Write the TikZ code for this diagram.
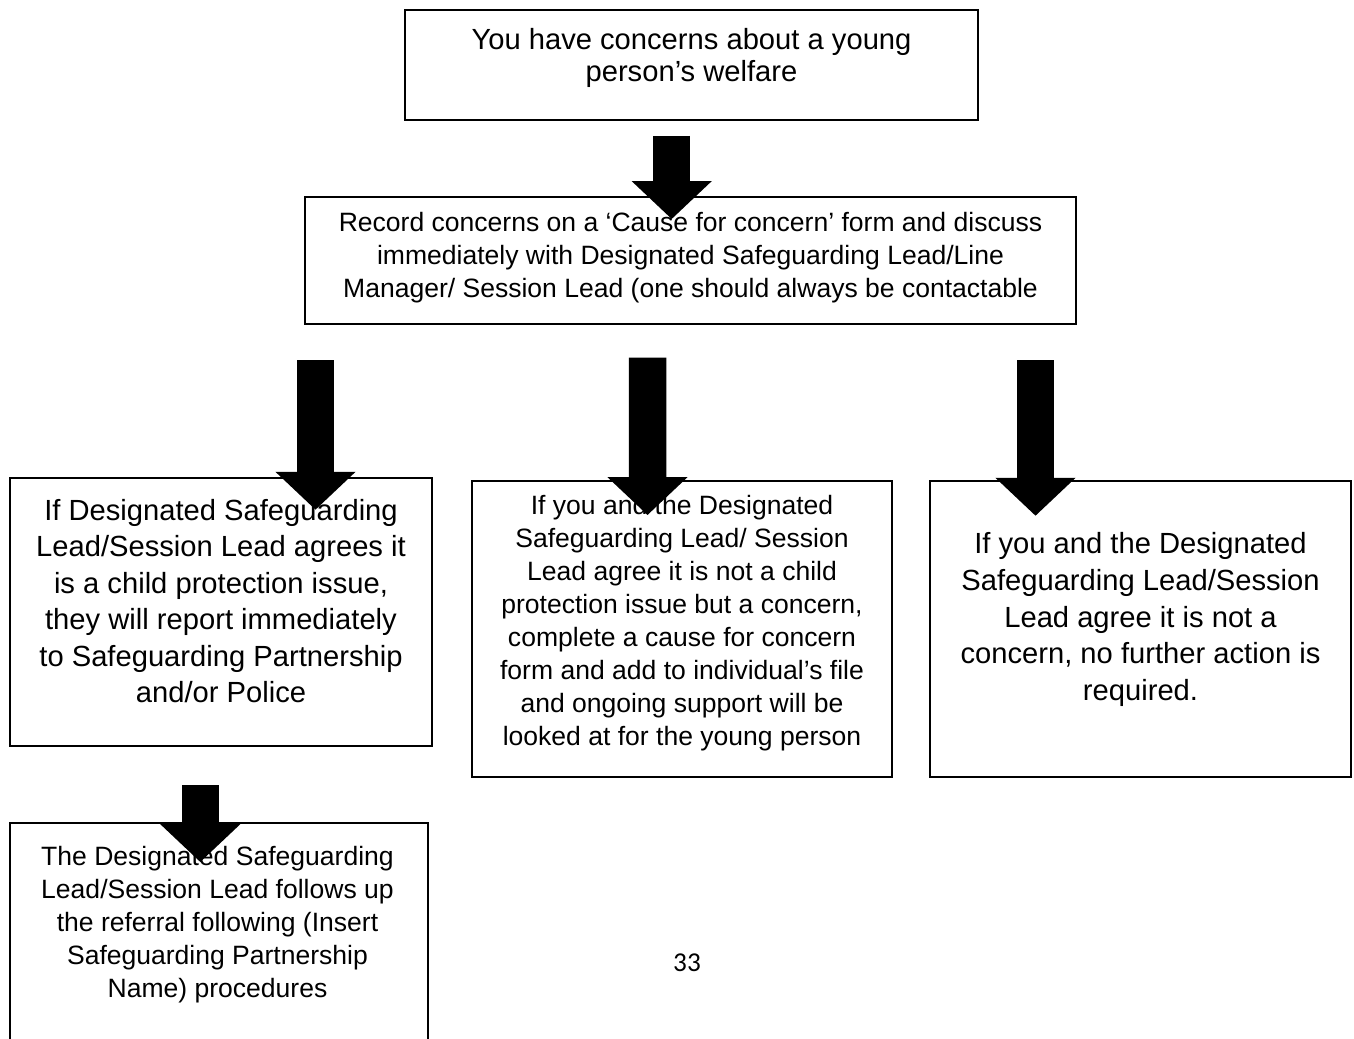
\documentclass[tikz,border=0pt]{standalone}
\usepackage{fontspec}
\setmainfont{Liberation Sans}
\newfontfamily\pagefont{Carlito}
\usepackage{xcolor}
\usepackage{tikz}
\usetikzlibrary{positioning,calc,arrows.meta}
\tikzset{
    flowbox/.style={rectangle, draw=black, line width=1.1pt, inner sep=0pt},
    bigtxt/.style={align=center, inner sep=0pt, font=\fontsize{16.6}{20.8}\selectfont},
    smalltxt/.style={align=center, inner sep=0pt, font=\fontsize{15.1}{18.8}\selectfont}
}

\begin{document}
\begin{tikzpicture}[
        x=0.02cm, y=-0.02cm,
        % --- ARROWS ---
        bigarrow/.style={draw=black, line width=0.75cm, -{Triangle[width=1.56cm, length=0.76cm]}},
        % --- TEXT ---
        headtxt/.style={bigtxt, font=\fontsize{16.6}{18.2}\selectfont},
        pagetxt/.style={font=\pagefont\fontsize{15.5}{18}\selectfont, inner sep=0pt}
    ]
        \useasboundingbox (0,0) rectangle (1354,1038);
        \clip (0,0) rectangle (1354,1038);

        % --- BOXES ---
        \node[flowbox, minimum width=11.46cm, minimum height=2.2cm] (concern) at (691.5,65) {};
        \node[flowbox, minimum width=15.42cm, minimum height=2.54cm] (record) at (690.5,260.5) {};
        \node[flowbox, minimum width=8.44cm, minimum height=5.36cm] (report) at (221,612) {};
        \node[flowbox, minimum width=8.4cm, minimum height=5.92cm] (monitor) at (682,629) {};
        \node[flowbox, minimum width=8.42cm, minimum height=5.92cm] (noaction) at (1140.5,629) {};
        \node[flowbox, minimum width=8.36cm, minimum height=4.8cm] (followup) at (219,943) {};

        % --- TEXTS ---
        \node[headtxt] (concern-t) at ($(concern.center)+(0,-7)$)
            {You have concerns about a young\\person’s welfare};
        \node[smalltxt] (record-t) at ($(record.center)+(0,-2.5)$)
            {Record concerns on a ‘Cause for concern’ form and discuss\\immediately with Designated Safeguarding Lead/Line\\Manager/ Session Lead (one should always be contactable};
        \node[bigtxt] (report-t) at ($(report.center)+(0,-11)$)
            {If Designated Safeguarding\\Lead/Session Lead agrees it\\is a child protection issue,\\they will report immediately\\to Safeguarding Partnership\\and/or Police};
        \node[smalltxt] (monitor-t) at ($(monitor.center)+(0,-5.5)$)
            {If you and the Designated\\Safeguarding Lead/ Session\\Lead agree it is not a child\\protection issue but a concern,\\complete a cause for concern\\form and add to individual’s file\\and ongoing support will be\\looked at for the young person};
        \node[bigtxt] (noaction-t) at ($(noaction.center)+(0,-9.5)$)
            {If you and the Designated\\Safeguarding Lead/Session\\Lead agree it is not a\\concern, no further action is\\required.};
        \node[smalltxt] (followup-t) at ($(followup.center)+(-1.5,-18.5)$)
            {The Designated Safeguarding\\Lead/Session Lead follows up\\the referral following (Insert\\Safeguarding Partnership\\Name) procedures};
        \node[pagetxt] (pagenum) at (687,963) {33};

        % --- CONNECTORS ---
        \draw[bigarrow] ($(concern.south)+(-19.8,15)$) -- ($(record.north)+(-18.8,23)$);
        \draw[bigarrow] ($(record.south)+(-375,35.3)$) -- ($(report.north)+(94.5,32.7)$);
        \draw[bigarrow] ($(record.south)+(-43,32.7)$) -- ($(monitor.north)+(-34.5,35)$);
        \draw[bigarrow] ($(record.south)+(345,35.3)$) -- ($(noaction.north)+(-105,35.7)$);
        \draw[bigarrow] ($(report.south)+(-20.7,38.3)$) -- ($(followup.north)+(-18.7,40)$);

    \end{tikzpicture}
\end{document}
